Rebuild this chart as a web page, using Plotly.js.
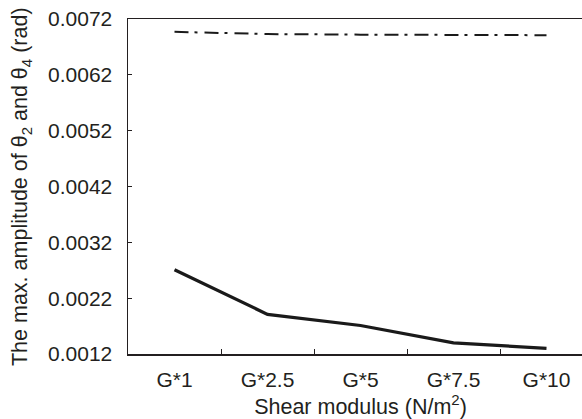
<!DOCTYPE html>
<html>
<head>
<meta charset="utf-8">
<script src="https://cdn.plot.ly/plotly-3.0.1.min.js"></script>
<style>
html,body{margin:0;padding:0;overflow:hidden;background:#fff;}
#chart{width:593px;height:419px;}
</style>
</head>
<body>
<div id="chart"></div>
<script>
// Data
const categories = ["G*1", "G*2.5", "G*5", "G*7.5", "G*10"];
const theta2 = [0.00271, 0.00191, 0.00171, 0.00140, 0.00130];
const theta4 = [0.00697, 0.00693, 0.00692, 0.00691, 0.00691];
const yTickVals = [0.0012, 0.0022, 0.0032, 0.0042, 0.0052, 0.0062, 0.0072];
const yTickText = ["0.0012", "0.0022", "0.0032", "0.0042", "0.0052", "0.0062", "0.0072"];
const yTitle = "The max. amplitude of θ<sub>2</sub> and θ<sub>4</sub> (rad)";
const xTitle = "Shear modulus (N/m<sup>2</sup>)";

const ink = "#231f20";
const font = "Liberation Sans, Arial, Helvetica, sans-serif";

const traces = [
  {
    x: categories, y: theta2, type: "scatter", mode: "lines",
    line: {color: "#1a1a1a", width: 3.2}, showlegend: false, hoverinfo: "skip"
  },
  {
    x: categories, y: theta4, type: "scatter", mode: "lines",
    line: {color: "#1a1a1a", width: 2, dash: "14px,6px,3px,7px"}, showlegend: false, hoverinfo: "skip"
  }
];

const layout = {
  width: 593, height: 419,
  margin: {l: 128, r: 0, t: 19, b: 65},
  paper_bgcolor: "#fff", plot_bgcolor: "#fff",
  font: {family: font, color: ink, size: 19},
  showlegend: false,
  xaxis: {
    type: "category",
    range: [-0.5, 4.5],
    showgrid: false, zeroline: false,
    showline: true, linecolor: ink, linewidth: 1.5, mirror: true,
    ticks: "inside", tickson: "boundaries", ticklen: 5, tickwidth: 1, tickcolor: ink,
    tickfont: {family: font, size: 21, color: ink},
    ticklabelstandoff: 6,
    title: {text: xTitle, font: {family: font, size: 21.5, color: ink}, standoff: 8}
  },
  yaxis: {
    range: [0.0012, 0.0072],
    tickvals: yTickVals, ticktext: yTickText,
    showgrid: false, zeroline: false,
    showline: true, linecolor: ink, linewidth: 1.5,
    ticks: "inside", ticklen: 4, tickwidth: 1, tickcolor: ink,
    tickfont: {family: font, size: 21, color: ink},
    ticklabelstandoff: 10
  },
  annotations: [{
    text: yTitle, textangle: -90,
    xref: "paper", yref: "paper", x: -0.229, y: 0.5,
    xanchor: "center", yanchor: "middle", showarrow: false,
    font: {family: font, size: 21.5, color: ink}
  }]
};

Plotly.newPlot("chart", traces, layout, {staticPlot: true, displayModeBar: false});
</script>
</body>
</html>
